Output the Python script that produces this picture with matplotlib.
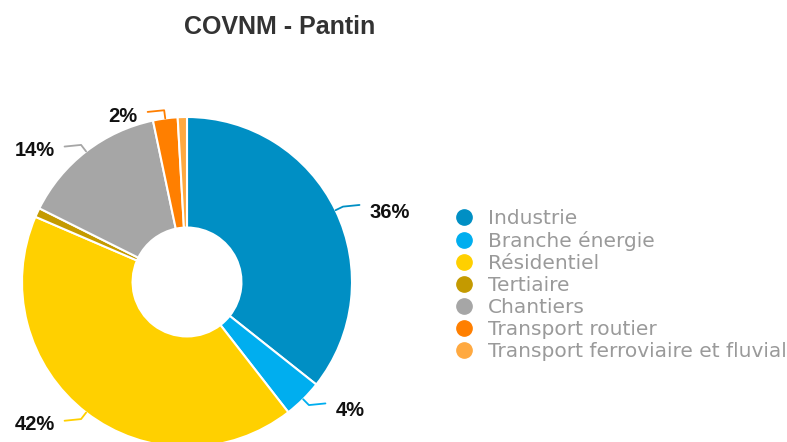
import numpy as np
import matplotlib
matplotlib.use("Agg")
import matplotlib.pyplot as plt
from matplotlib.lines import Line2D

# COVNM emissions shares, Pantin (%)
categories = ["Industrie", "Branche énergie", "Résidentiel", "Tertiaire",
              "Chantiers", "Transport routier", "Transport ferroviaire et fluvial"]
values = [35.6, 3.8, 41.9, 0.9, 14.3, 2.4, 0.9]
labels = ["36%", "4%", "42%", "", "14%", "2%", ""]
colors = ["#008fc4", "#00aeef", "#ffd000", "#c49a00", "#a6a6a6", "#ff7f00", "#ffa940"]

fig = plt.figure(figsize=(7.87, 4.42), dpi=100)
W, H = 787, 442
cx, cy, r = 187, 282, 165
ax = fig.add_axes([(cx - r) / W, (H - cy - r) / H, 2 * r / W, 2 * r / H])

wedges, _ = ax.pie(values, colors=colors, startangle=90, counterclock=False,
                   radius=1.0, wedgeprops=dict(width=0.67, edgecolor="white", linewidth=1.5))
ax.set_xlim(-1, 1)
ax.set_ylim(-1, 1)
ax.set_aspect("equal")
ax.axis("off")

# leader lines + labels
for w, lab, col in zip(wedges, labels, colors):
    if not lab:
        continue
    ang = np.deg2rad((w.theta1 + w.theta2) / 2)
    x0, y0 = np.cos(ang), np.sin(ang)
    x1, y1 = 1.05 * x0, 1.05 * y0
    side = 1 if x0 > 0 else -1
    x2 = x1 + side * 0.1
    ax.plot([x0, x1, x2], [y0, y1, y1 + 0.01 * side], color=col, lw=1.3,
            solid_capstyle="round", clip_on=False)
    ax.text(x2 + side * 0.06, y1 - 0.035, lab, ha="left" if side > 0 else "right",
            va="center", fontsize=14.5, fontweight="bold", family="Liberation Sans",
            color="#111111", clip_on=False)

fig.text(280 / W, 1 - 27 / H, "COVNM - Pantin", ha="center", va="center",
         fontsize=18, fontweight="bold", family="Liberation Sans", color="#333333")

handles = [Line2D([], [], marker="o", linestyle="none", markersize=11,
                  markerfacecolor=c, markeredgecolor=c) for c in colors]
fig.legend(handles, categories, loc="upper left", bbox_to_anchor=(454 / W, 1 - 209 / H),
           frameon=False, labelcolor="#9a9a9a", labelspacing=0.15,
           handlelength=1.0, handletextpad=0.7, borderaxespad=0, borderpad=0,
           prop={"family": "DejaVu Sans", "size": 14.5})

fig.savefig("out.png", dpi=100)
